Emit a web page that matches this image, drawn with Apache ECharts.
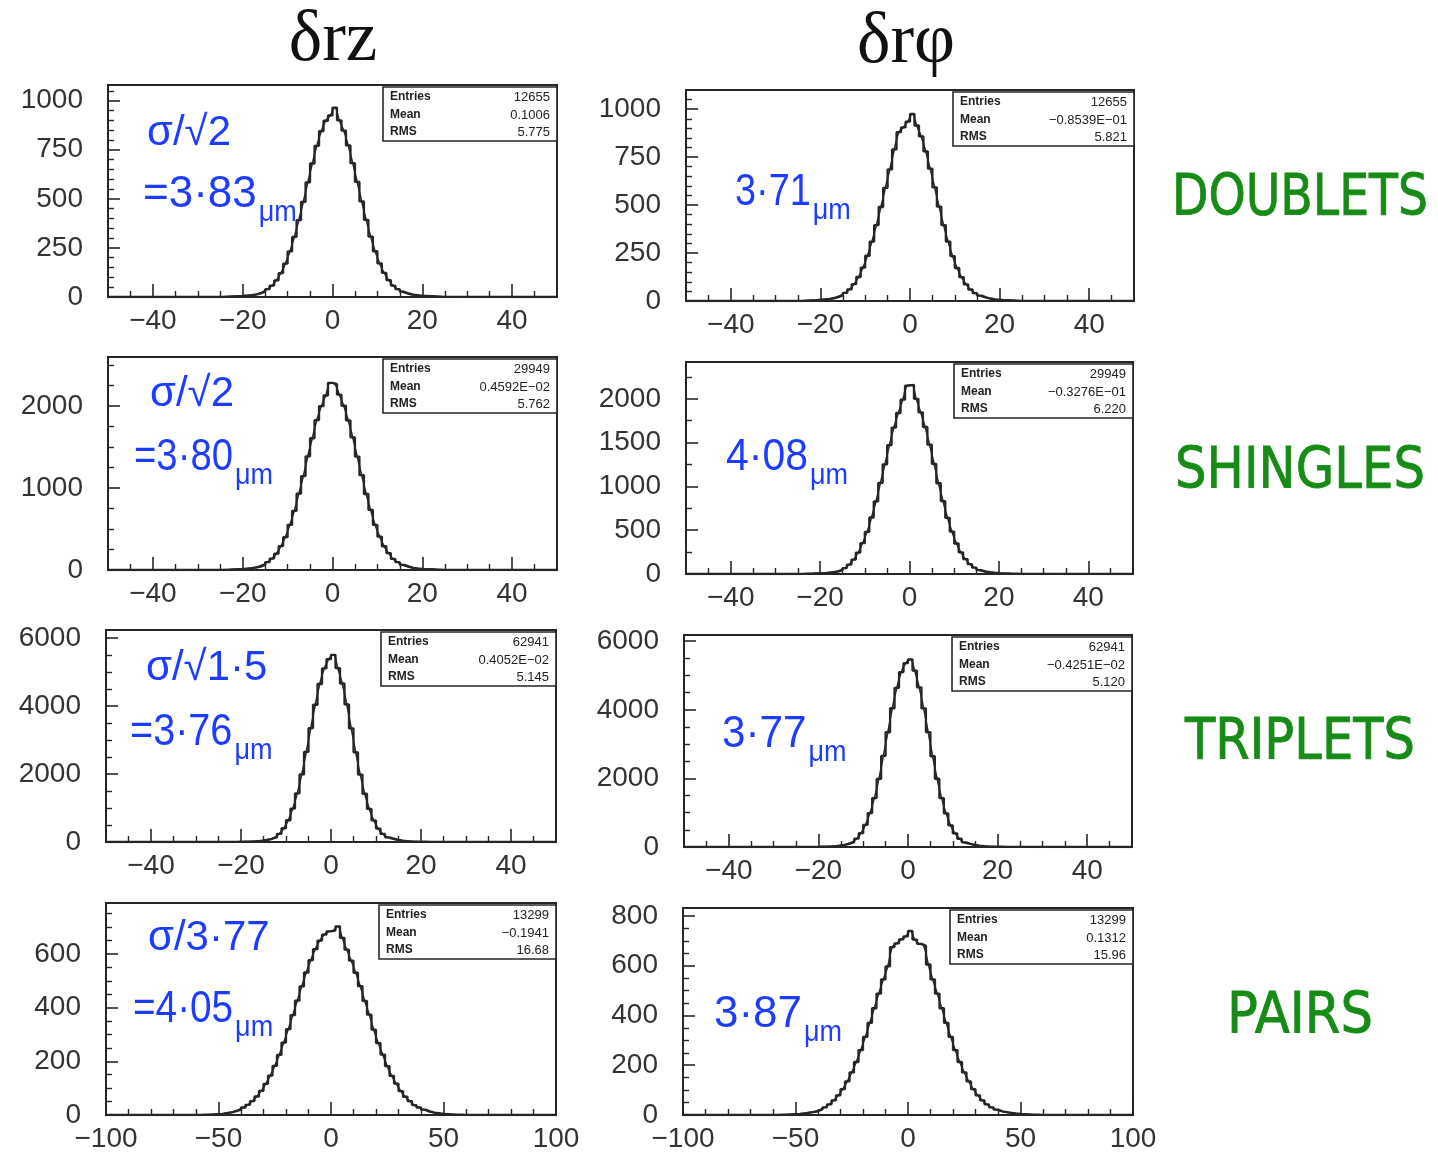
<!DOCTYPE html>
<html><head><meta charset="utf-8">
<script src="https://cdn.jsdelivr.net/npm/echarts@6/dist/echarts.min.js"></script>
<style>html,body{margin:0;padding:0;background:#fff}#c{width:1438px;height:1153px}</style>
</head><body><div id="c"></div>
<script>
// ---------------- DATA ----------------
const colTitles = ['δrz', 'δrφ'];
const rowNames = ['DOUBLETS', 'SHINGLES', 'TRIPLETS', 'PAIRS'];

// histogram bin definitions (bin width 1 for first three rows, 2 for pairs)
const binStartNarrow = -25, binWidthNarrow = 1;
const binStartWide = -60, binWidthWide = 2;

const histDoubletsRz = [1,2,3,4,5,7,9,12,18,27,40,58,85,122,170,232,306,392,485,584,680,770,845,898,925,965,900,848,772,682,586,487,393,308,233,171,123,86,58,40,27,18,12,9,6,5,4,3,2,1];
const histDoubletsRphi = [1,2,3,4,6,8,10,14,20,29,42,61,88,125,174,236,310,396,490,590,686,790,880,905,935,975,915,858,780,690,592,492,396,310,234,172,124,87,60,41,28,19,13,9,7,5,4,3,2,1];
const histShinglesRz = [2,4,7,10,12,16,22,29,42,63,96,139,199,291,401,552,722,932,1146,1388,1608,1830,2000,2130,2285,2270,2140,2005,1826,1620,1385,1158,928,733,550,407,290,206,135,96,62,44,27,20,14,11,9,6,4,2];
const histShinglesRphi = [2,3,4,6,8,11,15,20,28,44,68,108,165,244,352,480,645,828,1040,1252,1470,1672,1838,1990,2150,2160,2000,1845,1678,1476,1258,1036,832,641,484,348,247,170,112,72,45,29,20,15,11,8,6,4,3,2];
const histTripletsRz = [2,3,4,5,7,9,13,19,28,42,62,95,140,240,405,640,985,1430,1990,2650,3350,4040,4650,5110,5380,5510,5120,4665,4050,3345,2640,1985,1420,975,635,395,238,138,96,63,42,28,19,13,9,7,5,4,3,2];
const histTripletsRphi = [2,3,4,5,7,10,13,18,27,41,63,97,142,242,402,645,990,1425,1985,2655,3345,4045,4640,5100,5360,5470,5140,4655,4040,3350,2645,1990,1425,980,632,398,240,136,94,62,41,27,19,13,9,7,5,4,3,2];
const histPairsRz = [0,1,1,2,3,4,7,10,14,20,28,38,52,69,90,116,147,183,224,270,320,372,426,479,531,577,618,650,672,684,688,703,660,616,575,530,480,425,374,318,268,225,182,146,117,89,68,52,37,28,20,14,9,7,4,3,2,1,1,0];
const histPairsRphi = [0,1,1,2,3,4,6,9,12,15,22,31,43,59,79,104,135,171,213,261,314,370,429,488,545,597,675,690,706,718,740,705,688,680,605,545,488,429,370,314,261,213,171,135,104,79,59,43,31,22,15,12,9,6,4,3,2,1,1,0];

// tick labels
const xTickLabelsNarrow = [-40, -20, 0, 20, 40];
const xTickLabelsWide = [-100, -50, 0, 50, 100];
const yTickLabelsDoubletsRz = [0, 250, 500, 750, 1000];
const yTickLabelsDoubletsRphi = [0, 250, 500, 750, 1000];
const yTickLabelsShinglesRz = [0, 1000, 2000];
const yTickLabelsShinglesRphi = [0, 500, 1000, 1500, 2000];
const yTickLabelsTripletsRz = [0, 2000, 4000, 6000];
const yTickLabelsTripletsRphi = [0, 2000, 4000, 6000];
const yTickLabelsPairsRz = [0, 200, 400, 600];
const yTickLabelsPairsRphi = [0, 200, 400, 600, 800];

// statistics boxes
const statEntries = ['12655', '12655', '29949', '29949', '62941', '62941', '13299', '13299'];
const statMean = ['0.1006', '−0.8539E−01', '0.4592E−02', '−0.3276E−01', '0.4052E−02', '−0.4251E−02', '−0.1941', '0.1312'];
const statRms = ['5.775', '5.821', '5.762', '6.220', '5.145', '5.120', '16.68', '15.96'];

// handwritten notes
const noteRatio = ['σ/√2', '', 'σ/√2', '', 'σ/√1·5', '', 'σ/3·77', ''];
const noteValue = ['=3·83', '3·71', '=3·80', '4·08', '=3·76', '3·77', '=4·05', '3·87'];
const noteUnit = 'μm';

// ---------------- LAYOUT / STYLE ----------------
const hists = [histDoubletsRz, histDoubletsRphi, histShinglesRz, histShinglesRphi, histTripletsRz, histTripletsRphi, histPairsRz, histPairsRphi];
const yTickLabels = [yTickLabelsDoubletsRz, yTickLabelsDoubletsRphi, yTickLabelsShinglesRz, yTickLabelsShinglesRphi, yTickLabelsTripletsRz, yTickLabelsTripletsRphi, yTickLabelsPairsRz, yTickLabelsPairsRphi];
const yMax = [1080, 1100, 2600, 2420, 6240, 6180, 790, 832];
const yMinorStep = [50, 50, 250, 250, 500, 500, 50, 50];
const gridBoxes = [
  [108, 85, 449, 212], [686, 90, 448, 211],
  [108, 357, 449, 213], [686, 362, 447, 212],
  [106, 630, 450, 212], [684, 635, 448, 212],
  [106, 903, 450, 212], [683, 908, 450, 210]
];
const statBoxW = [174, 181, 174, 179, 175, 180, 177, 183];
const ratioPos = [[147, 133], null, [150, 394], null, [146, 668], null, [148, 938], null];
const valuePos = [[143, 195], [735, 193], [134, 458], [726, 458], [130, 733], [722, 735], [133, 1010], [714, 1015]];
const valueScaleX = [1.0, 0.86, 0.87, 0.93, 0.9, 0.96, 0.88, 1.0];
const rowLabelY = [200, 473, 744, 1018];
const rowLabelW = [256, 250, 230, 146];

const ink = '#262626';
const blue = '#1e3cff';
const green = '#168c16';
const tickFont = 'Liberation Sans';
const fmtX = v => String(v).replace('-', '−');
const fmtY = v => String(v);

const measureCtx = document.createElement('canvas').getContext('2d');
function textWidth(t, font) { measureCtx.font = font; return measureCtx.measureText(t).width; }

const option = { animation: false, backgroundColor: '#fff', grid: [], xAxis: [], yAxis: [], series: [], graphic: [] };

hists.forEach((vals, i) => {
  const wide = i >= 6;
  const x0 = wide ? binStartWide : binStartNarrow;
  const w = wide ? binWidthWide : binWidthNarrow;
  const xr = wide ? [-100, 100] : [-50, 50];
  const xMinor = wide ? 10 : 5;
  const xLab = wide ? xTickLabelsWide : xTickLabelsNarrow;
  const [gl, gt, gw, gh] = gridBoxes[i];
  option.grid.push({ left: gl, top: gt, width: gw, height: gh, show: true, borderColor: ink, borderWidth: 2, backgroundColor: 'transparent', containLabel: false });

  const xMinorVals = [];
  for (let v = xr[0] + xMinor; v < xr[1]; v += xMinor) if (xLab.indexOf(v) < 0) xMinorVals.push(v);
  const yMinorVals = [];
  for (let v = yMinorStep[i]; v < yMax[i]; v += yMinorStep[i]) if (yTickLabels[i].indexOf(v) < 0) yMinorVals.push(v);

  const hiddenLine = { show: false, onZero: false };
  option.xAxis.push({
    type: 'value', gridIndex: i, min: xr[0], max: xr[1], position: 'bottom',
    axisLine: hiddenLine, splitLine: { show: false },
    axisTick: { show: true, inside: true, length: 13, customValues: xLab, lineStyle: { color: ink, width: 1.6 } },
    axisLabel: { show: true, customValues: xLab, formatter: fmtX, margin: 10, fontSize: 28, fontFamily: tickFont, color: '#333' }
  });
  option.xAxis.push({
    type: 'value', gridIndex: i, min: xr[0], max: xr[1], position: 'bottom',
    axisLine: hiddenLine, splitLine: { show: false },
    axisTick: { show: true, inside: true, length: 6, customValues: xMinorVals, lineStyle: { color: ink, width: 1.4 } },
    axisLabel: { show: false }
  });
  option.yAxis.push({
    type: 'value', gridIndex: i, min: 0, max: yMax[i], position: 'left',
    axisLine: hiddenLine, splitLine: { show: false },
    axisTick: { show: true, inside: true, length: 12, customValues: yTickLabels[i], lineStyle: { color: ink, width: 1.6 } },
    axisLabel: { show: true, customValues: yTickLabels[i], formatter: fmtY, margin: 25, fontSize: 28, fontFamily: tickFont, color: '#333' }
  });
  option.yAxis.push({
    type: 'value', gridIndex: i, min: 0, max: yMax[i], position: 'left',
    axisLine: hiddenLine, splitLine: { show: false },
    axisTick: { show: true, inside: true, length: 6, customValues: yMinorVals, lineStyle: { color: ink, width: 1.4 } },
    axisLabel: { show: false }
  });

  // histogram as step line
  const stepData = [[xr[0], 0]];
  vals.forEach((v, k) => stepData.push([x0 + k * w, v]));
  stepData.push([x0 + vals.length * w, 0]);
  stepData.push([xr[1], 0]);
  option.series.push({
    type: 'line', xAxisIndex: 2 * i, yAxisIndex: 2 * i, data: stepData, step: 'end',
    symbol: 'none', silent: true, lineStyle: { color: ink, width: 2.3 }, z: 3
  });
  // smooth overlay through bin centres (fit-like curve)
  const centreData = vals.map((v, k) => [x0 + (k + 0.5) * w, v]);
  option.series.push({
    type: 'line', xAxisIndex: 2 * i, yAxisIndex: 2 * i, data: centreData, smooth: 0.4,
    symbol: 'none', silent: true, lineStyle: { color: ink, width: 1.6 }, z: 3
  });

  // statistics box
  const bw = statBoxW[i], bx = gl + gw - bw, by = gt + 2, bh = 54;
  option.graphic.push({ type: 'rect', z: 10, shape: { x: bx, y: by, width: bw, height: bh }, style: { fill: '#fff', stroke: ink, lineWidth: 1.6 } });
  const rowsL = ['Entries', 'Mean', 'RMS'];
  const rowsV = [statEntries[i], statMean[i], statRms[i]];
  [10, 28, 45].forEach((dy, r) => {
    option.graphic.push({ type: 'text', z: 11, x: bx + 7, y: by + dy, style: { text: rowsL[r], font: 'bold 12px "Liberation Sans"', fill: '#222', align: 'left', verticalAlign: 'middle' } });
    option.graphic.push({ type: 'text', z: 11, x: bx + bw - 7, y: by + dy, style: { text: rowsV[r], font: '13px "Liberation Sans"', fill: '#222', align: 'right', verticalAlign: 'middle' } });
  });

  // handwritten notes
  if (noteRatio[i]) {
    option.graphic.push({ type: 'text', z: 12, x: ratioPos[i][0], y: ratioPos[i][1], style: { text: noteRatio[i], font: '42px "Liberation Sans"', fill: blue, align: 'left', verticalAlign: 'middle' } });
  }
  const vFont = '44px "Liberation Sans"';
  const sx = valueScaleX[i];
  option.graphic.push({ type: 'text', z: 12, x: valuePos[i][0], y: valuePos[i][1], scaleX: sx, style: { text: noteValue[i], font: vFont, fill: blue, align: 'left', verticalAlign: 'middle' } });
  const ux = valuePos[i][0] + textWidth(noteValue[i], vFont) * sx + 2;
  option.graphic.push({ type: 'text', z: 12, x: ux, y: valuePos[i][1] + 18, scaleX: 0.9, style: { text: noteUnit, font: '30px "Liberation Sans"', fill: blue, align: 'left', verticalAlign: 'middle' } });
});

// column titles
option.graphic.push({ type: 'text', x: 333, y: 41, style: { text: colTitles[0], font: '71px "Liberation Serif"', fill: '#111', align: 'center', verticalAlign: 'middle' } });
option.graphic.push({ type: 'text', x: 906, y: 43, style: { text: colTitles[1], font: '71px "Liberation Serif"', fill: '#111', align: 'center', verticalAlign: 'middle' } });

// row labels
const rowFont = '47px "DejaVu Sans"';
rowNames.forEach((name, r) => {
  const sxr = rowLabelW[r] / textWidth(name, rowFont);
  option.graphic.push({ type: 'text', x: 1300, y: rowLabelY[r], scaleY: 1.2, scaleX: sxr,
    style: { text: name, font: rowFont, fill: green, stroke: green, lineWidth: 0.7, align: 'center', verticalAlign: 'middle' } });
});

const chart = echarts.init(document.getElementById('c'), null, { renderer: 'canvas' });
chart.setOption(option);
</script>
</body></html>
